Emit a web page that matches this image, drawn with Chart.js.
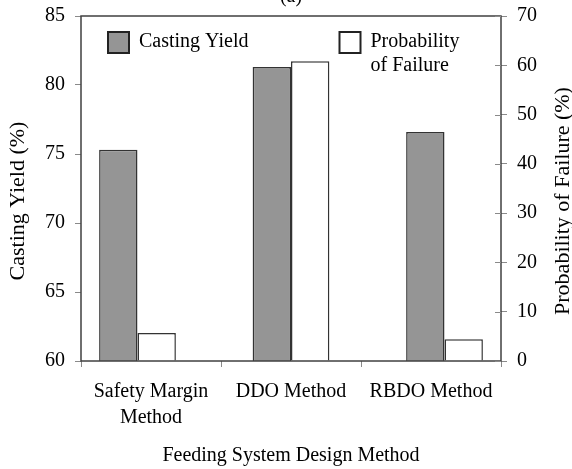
<!DOCTYPE html>
<html>
<head>
<meta charset="utf-8">
<script src="https://cdn.jsdelivr.net/npm/chart.js@4.4.0/dist/chart.umd.min.js"></script>
<style>
  html, body { margin: 0; padding: 0; background: #fff; overflow: hidden; }
  #wrap { width: 572px; height: 469px; }
</style>
</head>
<body>
<div id="wrap"><canvas id="chart"></canvas></div>
<script>
const categories = [["Safety Margin", "Method"], "DDO Method", "RBDO Method"];
const castingYield = [75.3, 81.3, 76.6];
const probFailure = [5.7, 60.8, 4.4];
const yieldRange = [60, 85, 5];
const failureRange = [0, 70, 10];
const seriesLabels = [["Casting Yield"], ["Probability", "of Failure"]];
const axisTitles = ["Casting Yield (%)", "Probability of Failure (%)"];

const serif = "'Liberation Serif', 'Times New Roman', serif";
const axisColor = "#404040";
const tickColor = "#8a8a8a";

// frame, inner ticks on right axis, legend, y titles and the clipped "(a)"
const extras = {
    id: "extras",
    afterDatasetsDraw(chart) {
        const { ctx, chartArea: a } = chart;
        ctx.save();
        ctx.strokeStyle = axisColor;
        ctx.lineWidth = 1.5;
        ctx.strokeRect(a.left, a.top, a.right - a.left, a.bottom - a.top);
        ctx.strokeStyle = tickColor;
        ctx.lineWidth = 1;
        const y2 = chart.scales.y2;
        y2.ticks.forEach((t) => {
            const py = Math.round(y2.getPixelForValue(t.value)) + 0.5;
            ctx.beginPath();
            ctx.moveTo(a.right - 6, py);
            ctx.lineTo(a.right, py);
            ctx.stroke();
        });
        ctx.restore();
    },
    afterDraw(chart) {
        const { ctx, chartArea: a } = chart;
        ctx.save();
        ctx.font = "20px " + serif;
        ctx.fillStyle = "#000";
        ctx.textAlign = "center";
        ctx.textBaseline = "alphabetic";
        ctx.fillText("(a)", (a.left + a.right) / 2, 2);

        // both y titles read bottom to top, sitting a little below the middle
        ctx.font = "22px " + serif;
        ctx.textBaseline = "middle";
        [[18, axisTitles[0]], [563, axisTitles[1]]].forEach(([tx, txt]) => {
            ctx.save();
            ctx.translate(tx, 201);
            ctx.rotate(-Math.PI / 2);
            ctx.fillText(txt, 0, 0);
            ctx.restore();
        });

        ctx.font = "20px " + serif;
        const spots = [[108, 32], [339.5, 32]];
        chart.data.datasets.forEach((ds, i) => {
            const [bx, by] = spots[i];
            ctx.fillStyle = ds.backgroundColor;
            ctx.fillRect(bx, by, 21, 21);
            ctx.strokeStyle = "#222";
            ctx.lineWidth = 2;
            ctx.strokeRect(bx, by, 21, 21);
            ctx.fillStyle = "#000";
            ctx.textAlign = "left";
            ctx.textBaseline = "middle";
            seriesLabels[i].forEach((line, k) => {
                ctx.fillText(line, bx + 31, by + 10 + k * 23.5);
            });
        });
        ctx.restore();
    },
};

const barStyle = {
    borderColor: "#333",
    borderWidth: 1.5,
    xAxisID: "xb",
    categoryPercentage: 0.5,
    barPercentage: 1.0,
};

new Chart(document.getElementById("chart"), {
    type: "bar",
    data: {
        labels: categories,
        datasets: [
            Object.assign({
                label: "Casting Yield",
                data: castingYield.map((v, i) => ({ x: i, y: v })),
                backgroundColor: "#959595",
                yAxisID: "y",
            }, barStyle),
            Object.assign({
                label: "Probability of Failure",
                data: probFailure.map((v, i) => ({ x: i, y: v })),
                backgroundColor: "#ffffff",
                yAxisID: "y2",
            }, barStyle),
        ],
    },
    options: {
        responsive: true,
        maintainAspectRatio: false,
        animation: false,
        layout: { padding: { top: 16, left: 0, right: 0, bottom: 0 } },
        plugins: {
            legend: { display: false },
            tooltip: { enabled: false },
        },
        scales: {
            x: {
                type: "category",
                offset: true,
                border: { display: false },
                grid: {
                    offset: true,
                    drawOnChartArea: false,
                    drawTicks: true,
                    tickLength: 6,
                    color: tickColor,
                },
                ticks: {
                    color: "#000",
                    padding: 12,
                    maxRotation: 0,
                    font: { family: serif, size: 20, lineHeight: 1.3 },
                },
                title: {
                    display: true,
                    text: "Feeding System Design Method",
                    color: "#000",
                    padding: { top: 0, bottom: 1 },
                    font: { family: serif, size: 20 },
                },
                afterFit: (s) => { s.height = 108; },
            },
            xb: {
                type: "linear",
                display: false,
                offset: false,
                min: -0.368,
                max: categories.length - 1 + 0.368,
                afterBuildTicks: (s) => {
                    s.ticks = categories.map((c, i) => ({ value: i }));
                },
            },
            y: {
                position: "left",
                min: yieldRange[0],
                max: yieldRange[1],
                border: { display: false },
                grid: {
                    drawOnChartArea: false,
                    tickLength: 6,
                    color: tickColor,
                },
                ticks: {
                    stepSize: yieldRange[2],
                    color: "#000",
                    padding: 10,
                    font: { family: serif, size: 20 },
                },
                afterFit: (s) => {
                    s.width = 81;
                    s.paddingTop = 0;
                    s.paddingBottom = 0;
                },
            },
            y2: {
                position: "right",
                min: failureRange[0],
                max: failureRange[1],
                border: { display: false },
                grid: {
                    drawOnChartArea: false,
                    tickLength: 6,
                    color: tickColor,
                },
                ticks: {
                    stepSize: failureRange[2],
                    color: "#000",
                    padding: 10,
                    font: { family: serif, size: 20 },
                },
                afterFit: (s) => {
                    s.width = 71;
                    s.paddingTop = 0;
                    s.paddingBottom = 0;
                },
            },
        },
    },
    plugins: [extras],
});
</script>
</body>
</html>
